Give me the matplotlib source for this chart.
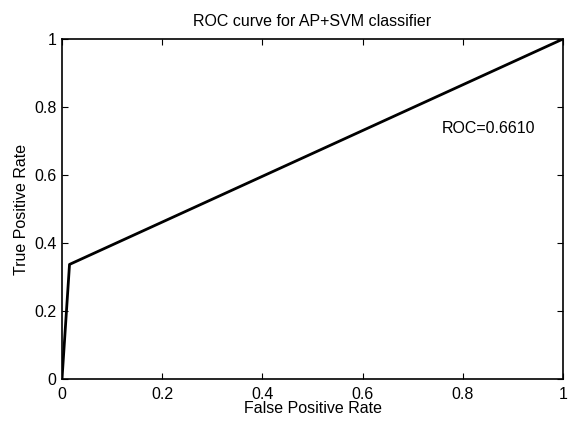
import matplotlib
matplotlib.use("Agg")
import matplotlib.pyplot as plt

plt.rcParams['font.family'] = ['Liberation Sans', 'DejaVu Sans']

# ROC operating points
fpr = [0.0, 0.015, 1.0]
tpr = [0.0, 0.337, 1.0]
auc_text = "ROC=0.6610"
ticks = [0, 0.2, 0.4, 0.6, 0.8, 1]
tick_labels = ["0", "0.2", "0.4", "0.6", "0.8", "1"]

fs = 11.5

fig = plt.figure(figsize=(5.68, 4.22), dpi=100)
ax = fig.add_axes([62/568, 1 - 379/422, (563-62)/568, (379-39)/422])

ax.plot(fpr, tpr, color='black', linewidth=2)
ax.text(0.757, 0.738, auc_text, fontsize=fs, va='center', ha='left')

ax.set_xlim(0, 1)
ax.set_ylim(0, 1)
ax.set_xticks(ticks)
ax.set_xticklabels(tick_labels)
ax.set_yticks(ticks)
ax.set_yticklabels(tick_labels)
ax.tick_params(direction='in', length=4, width=0.8, labelsize=fs, top=True, right=True,
               labeltop=False, labelright=False)
ax.tick_params(axis='x', pad=6)
ax.tick_params(axis='y', pad=4)
for s in ax.spines.values():
    s.set_linewidth(1.2)

ax.set_xlabel("False Positive Rate", fontsize=fs, labelpad=-1)
ax.set_ylabel("True Positive Rate", fontsize=fs, labelpad=4)
ax.set_title("ROC curve for AP+SVM classifier", fontsize=fs, pad=9)

fig.savefig("out.png", dpi=100)
